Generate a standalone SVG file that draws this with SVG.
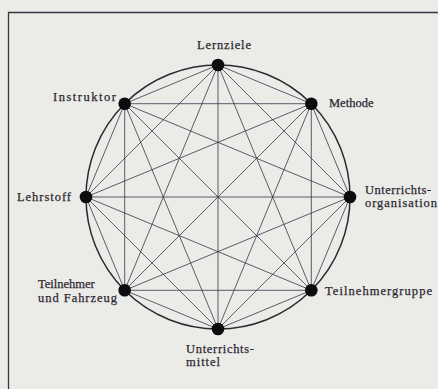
<svg xmlns="http://www.w3.org/2000/svg" width="438" height="389" viewBox="0 0 438 389">
<style>
.bg{fill:#ebebe8}
.frame{stroke:#3a3540;stroke-width:1.3;fill:none}
.ring{stroke:#2e2833;stroke-width:1.5;fill:none}
.edge{stroke:#3b3346;stroke-width:0.8}
.dot{fill:#0d0b0e}
.lbl{font-family:"Liberation Serif","Times New Roman",serif;font-size:12.5px;fill:#2d2831;stroke:#2d2831;stroke-width:0.25}
</style>
<rect class="bg" x="0" y="0" width="438" height="389"/>
<path class="frame" d="M438 12.5H8.5V389"/>
<circle class="ring" cx="218" cy="197" r="132"/>
<g id="connectors">
<line class="edge" x1="218" y1="65" x2="311.3" y2="103.7"/>
<line class="edge" x1="218" y1="65" x2="350" y2="197"/>
<line class="edge" x1="218" y1="65" x2="311.3" y2="290.3"/>
<line class="edge" x1="218" y1="65" x2="218" y2="329"/>
<line class="edge" x1="218" y1="65" x2="124.7" y2="290.3"/>
<line class="edge" x1="218" y1="65" x2="86" y2="197"/>
<line class="edge" x1="218" y1="65" x2="124.7" y2="103.7"/>
<line class="edge" x1="311.3" y1="103.7" x2="350" y2="197"/>
<line class="edge" x1="311.3" y1="103.7" x2="311.3" y2="290.3"/>
<line class="edge" x1="311.3" y1="103.7" x2="218" y2="329"/>
<line class="edge" x1="311.3" y1="103.7" x2="124.7" y2="290.3"/>
<line class="edge" x1="311.3" y1="103.7" x2="86" y2="197"/>
<line class="edge" x1="311.3" y1="103.7" x2="124.7" y2="103.7"/>
<line class="edge" x1="350" y1="197" x2="311.3" y2="290.3"/>
<line class="edge" x1="350" y1="197" x2="218" y2="329"/>
<line class="edge" x1="350" y1="197" x2="124.7" y2="290.3"/>
<line class="edge" x1="350" y1="197" x2="86" y2="197"/>
<line class="edge" x1="350" y1="197" x2="124.7" y2="103.7"/>
<line class="edge" x1="311.3" y1="290.3" x2="218" y2="329"/>
<line class="edge" x1="311.3" y1="290.3" x2="124.7" y2="290.3"/>
<line class="edge" x1="311.3" y1="290.3" x2="86" y2="197"/>
<line class="edge" x1="311.3" y1="290.3" x2="124.7" y2="103.7"/>
<line class="edge" x1="218" y1="329" x2="124.7" y2="290.3"/>
<line class="edge" x1="218" y1="329" x2="86" y2="197"/>
<line class="edge" x1="218" y1="329" x2="124.7" y2="103.7"/>
<line class="edge" x1="124.7" y1="290.3" x2="86" y2="197"/>
<line class="edge" x1="124.7" y1="290.3" x2="124.7" y2="103.7"/>
<line class="edge" x1="86" y1="197" x2="124.7" y2="103.7"/>
</g>
<g id="lernziele"><circle class="dot" cx="218" cy="65" r="6.3"/><text class="lbl" x="197" y="49" textLength="54" lengthAdjust="spacing">Lernziele</text></g>
<g id="methode"><circle class="dot" cx="311.3" cy="103.7" r="6.3"/><text class="lbl" x="329" y="107">Methode</text></g>
<g id="unterrichtsorganisation"><circle class="dot" cx="350" cy="197" r="6.3"/><text class="lbl" x="365" y="194" textLength="66" lengthAdjust="spacing">Unterrichts-</text><text class="lbl" x="365" y="207" textLength="72" lengthAdjust="spacing">organisation</text></g>
<g id="teilnehmergruppe"><circle class="dot" cx="311.3" cy="290.3" r="6.3"/><text class="lbl" x="325" y="295" textLength="107" lengthAdjust="spacing">Teilnehmergruppe</text></g>
<g id="unterrichtsmittel"><circle class="dot" cx="218" cy="329" r="6.3"/><text class="lbl" x="186" y="353" textLength="68" lengthAdjust="spacing">Unterrichts-</text><text class="lbl" x="186" y="366" textLength="34" lengthAdjust="spacing">mittel</text></g>
<g id="teilnehmer-fahrzeug"><circle class="dot" cx="124.7" cy="290.3" r="6.3"/><text class="lbl" x="38" y="288">Teilnehmer</text><text class="lbl" x="38" y="302" textLength="79" lengthAdjust="spacing">und Fahrzeug</text></g>
<g id="lehrstoff"><circle class="dot" cx="86" cy="197" r="6.3"/><text class="lbl" x="17" y="201" textLength="54" lengthAdjust="spacing">Lehrstoff</text></g>
<g id="instruktor"><circle class="dot" cx="124.7" cy="103.7" r="6.3"/><text class="lbl" x="53" y="101" textLength="63" lengthAdjust="spacing">Instruktor</text></g>
</svg>
